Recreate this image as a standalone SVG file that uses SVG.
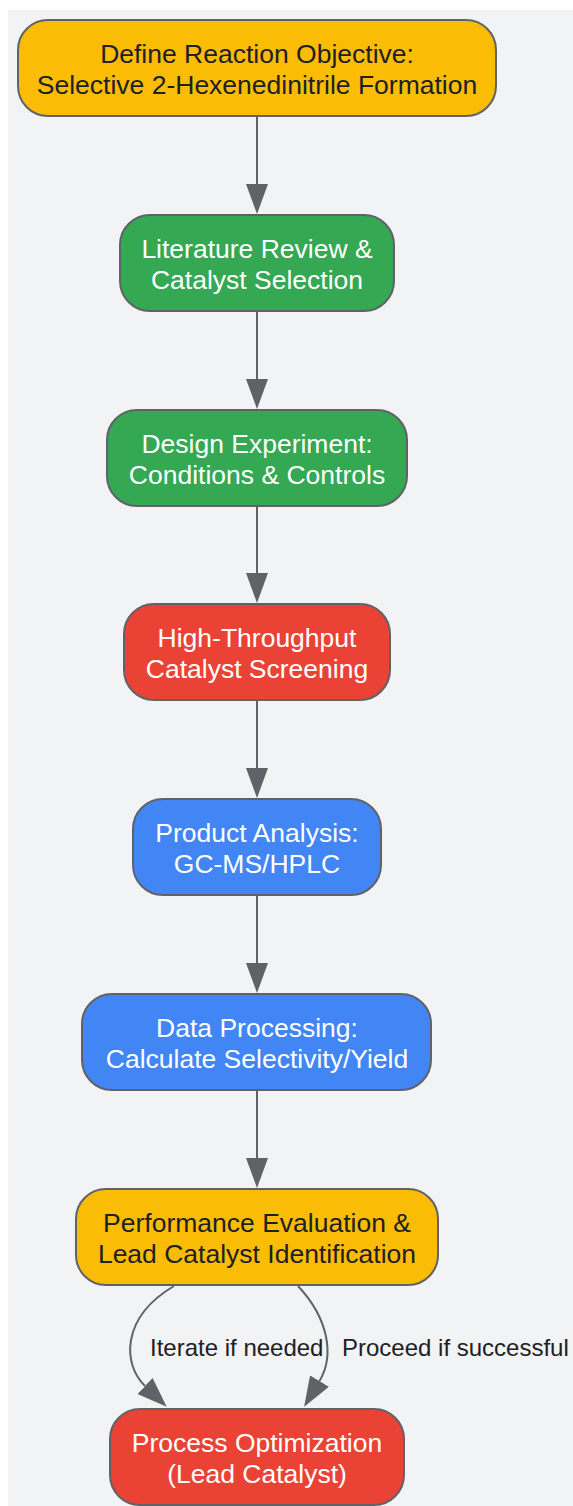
<svg xmlns="http://www.w3.org/2000/svg" width="573" height="1506" viewBox="0 0 573 1506">
<style>
.n rect{stroke:#5F6368;stroke-width:2}
.n text{font-family:"Liberation Sans",Arial,sans-serif;font-size:26.5px;text-anchor:middle}
.y rect{fill:#FBBC05}.y text{fill:#202124}
.g rect{fill:#34A853}.r rect{fill:#EA4335}.b rect{fill:#4285F4}
.g text,.r text,.b text{fill:#FFFFFF}
.e{fill:none;stroke:#5F6368;stroke-width:2}
.l{font-family:"Liberation Sans",Arial,sans-serif;font-size:24px;fill:#202124}
</style>
<defs>
<marker id="ah" markerUnits="userSpaceOnUse" markerWidth="30" markerHeight="22" viewBox="0 0 30 22" refX="0" refY="11" orient="auto">
<path d="M0,0 L30,11 L0,22 z" fill="#5F6368"/>
</marker>
</defs>
<rect x="8" y="10" width="565" height="1496" fill="#F1F3F4"/>
<g id="connectors">
<path class="e" d="M257,116 V184" marker-end="url(#ah)"/>
<path class="e" d="M257,311 V379" marker-end="url(#ah)"/>
<path class="e" d="M257,506 V573" marker-end="url(#ah)"/>
<path class="e" d="M257,700 V768" marker-end="url(#ah)"/>
<path class="e" d="M257,895 V963" marker-end="url(#ah)"/>
<path class="e" d="M257,1090 V1158" marker-end="url(#ah)"/>
<path class="e" d="M174,1286 C120,1318 123,1365 145,1386" marker-end="url(#ah)"/>
<path class="e" d="M298,1286 C328,1318 335,1355 319.5,1381" marker-end="url(#ah)"/>
<text class="l" x="150" y="1356">Iterate if needed</text>
<text class="l" x="342" y="1356">Proceed if successful</text>
</g>
<g id="n1" class="n y"><rect x="18" y="20" width="478" height="96" rx="30"/><text x="257" y="62.5">Define Reaction Objective:</text><text x="257" y="94">Selective 2-Hexenedinitrile Formation</text></g>
<g id="n2" class="n g"><rect x="120" y="215" width="274" height="96" rx="30"/><text x="257" y="257.5">Literature Review &amp;</text><text x="257" y="289">Catalyst Selection</text></g>
<g id="n3" class="n g"><rect x="107" y="410" width="300" height="96" rx="30"/><text x="257" y="452.5">Design Experiment:</text><text x="257" y="484">Conditions &amp; Controls</text></g>
<g id="n4" class="n r"><rect x="124" y="604" width="266" height="96" rx="30"/><text x="257" y="646.5">High-Throughput</text><text x="257" y="678">Catalyst Screening</text></g>
<g id="n5" class="n b"><rect x="133" y="799" width="248" height="96" rx="30"/><text x="257" y="841.5">Product Analysis:</text><text x="257" y="873">GC-MS/HPLC</text></g>
<g id="n6" class="n b"><rect x="82" y="994" width="349" height="96" rx="30"/><text x="257" y="1036.5">Data Processing:</text><text x="257" y="1068">Calculate Selectivity/Yield</text></g>
<g id="n7" class="n y"><rect x="76" y="1189" width="362" height="96" rx="30"/><text x="257" y="1231.5">Performance Evaluation &amp;</text><text x="257" y="1263">Lead Catalyst Identification</text></g>
<g id="n8" class="n r"><rect x="110" y="1409" width="294" height="96" rx="30"/><text x="257" y="1451.5">Process Optimization</text><text x="257" y="1483">(Lead Catalyst)</text></g>
</svg>
